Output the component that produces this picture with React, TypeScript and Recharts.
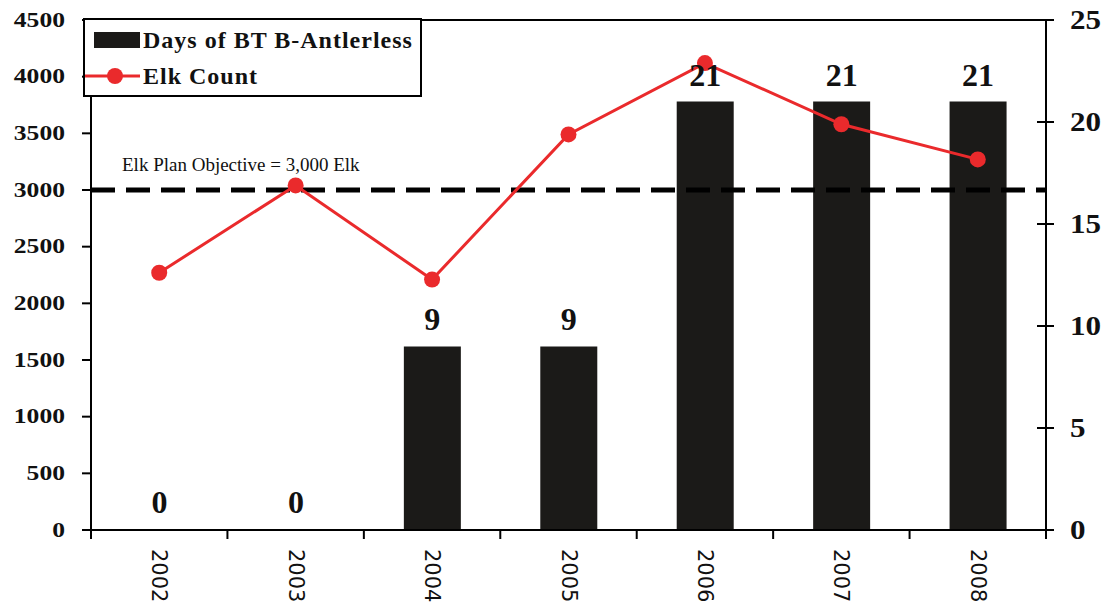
import React from "react";
import {
  ComposedChart,
  Bar,
  Line,
  XAxis,
  YAxis,
  ReferenceLine,
  LabelList,
} from "recharts";

const years = ["2002", "2003", "2004", "2005", "2006", "2007", "2008"];
const daysAntlerless = [0, 0, 9, 9, 21, 21, 21];
const elkCount = [2270, 3040, 2210, 3490, 4120, 3580, 3270];
const leftTicks = [0, 500, 1000, 1500, 2000, 2500, 3000, 3500, 4000, 4500];
const rightTicks = [0, 5, 10, 15, 20, 25];
const objective = 3000;
const objectiveLabel = "Elk Plan Objective = 3,000 Elk";
const barName = "Days of BT B-Antlerless";
const lineName = "Elk Count";

const data = years.map((y, i) => ({
  year: y,
  days: daysAntlerless[i],
  elk: elkCount[i],
}));

const SERIF = "'Liberation Serif', 'Times New Roman', serif";
const RED = "#ea2a2c";
const BAR = "#1b1a18";

const X_TICK_SIZE = 9;
const X_TICK_MARGIN = 10;

const XTick = (props: any) => {
  const { x, y, payload, index } = props;
  const half = payload && typeof payload.offset === "number" && payload.offset > 0 ? payload.offset : 68.2;
  const axisY = y - X_TICK_SIZE - X_TICK_MARGIN;
  return (
    <g>
      <line x1={x - half} x2={x - half} y1={axisY} y2={axisY + X_TICK_SIZE} stroke="#000" strokeWidth={2} />
      {index === years.length - 1 && (
        <line x1={x + half} x2={x + half} y1={axisY} y2={axisY + X_TICK_SIZE} stroke="#000" strokeWidth={2} />
      )}
      <text
        transform={`translate(${x},${y}) rotate(90)`}
        x={0}
        y={0}
        textAnchor="start"
        dominantBaseline="central"
        fontFamily="'DejaVu Sans', sans-serif"
        fontSize={21}
        fill="#111"
      >
        {payload.value}
      </text>
    </g>
  );
};

const LeftTick = (props: any) => {
  const { x, y, payload } = props;
  return (
    <text
      transform={`translate(${x},${y}) scale(1.28,1)`}
      x={0}
      y={0}
      textAnchor="end"
      dominantBaseline="central"
      fontFamily={SERIF}
      fontWeight="bold"
      fontSize={20}
      fill="#111"
    >
      {payload.value}
    </text>
  );
};

const R_TICK_SIZE = 8;
const R_TICK_MARGIN = 16;

const RightTick = (props: any) => {
  const { x, y, payload } = props;
  const axisX = x - R_TICK_SIZE - R_TICK_MARGIN;
  return (
    <g>
      <line x1={axisX - 9} x2={axisX + 8} y1={y} y2={y} stroke="#000" strokeWidth={2} />
      <text
        transform={`translate(${x},${y}) scale(1.15,1)`}
        x={0}
        y={0}
        textAnchor="start"
        dominantBaseline="central"
        fontFamily={SERIF}
        fontWeight="bold"
        fontSize={27}
        fill="#111"
      >
        {payload.value}
      </text>
    </g>
  );
};

const ObjectiveLabel = (props: any) => {
  const vb = props.viewBox || {};
  return (
    <text
      x={(vb.x || 0) + 31}
      y={(vb.y || 0) - 19}
      fontFamily={SERIF}
      fontSize={19}
      fill="#111"
    >
      {objectiveLabel}
    </text>
  );
};

const LegendBox = () => (
  <div
    style={{
      position: "absolute",
      left: 83,
      top: 18,
      width: 335,
      height: 75,
      border: "2px solid #000",
      background: "#fff",
      fontFamily: SERIF,
      fontWeight: "bold",
      fontSize: 24,
      color: "#111",
    }}
  >
    <div style={{ position: "absolute", left: 0, top: 5, height: 30, display: "flex", alignItems: "center" }}>
      <svg width={58} height={30} style={{ display: "block" }}>
        <rect x={9} y={7} width={46} height={16} fill={BAR} />
      </svg>
      <span style={{ letterSpacing: 1, whiteSpace: "nowrap" }}>{barName}</span>
    </div>
    <div style={{ position: "absolute", left: 0, top: 41, height: 30, display: "flex", alignItems: "center" }}>
      <svg width={58} height={30} style={{ display: "block" }}>
        <line x1={0} x2={55} y1={15} y2={15} stroke={RED} strokeWidth={3} />
        <circle cx={30} cy={15} r={8} fill={RED} />
      </svg>
      <span style={{ letterSpacing: 1, whiteSpace: "nowrap" }}>{lineName}</span>
    </div>
  </div>
);

export default function App() {
  return (
    <div style={{ position: "absolute", left: 0, top: 0, width: 1107, height: 606, background: "#fff" }}>
      <ComposedChart
        width={1107}
        height={606}
        data={data}
        margin={{ top: 20, right: 0, bottom: 0, left: 0 }}
      >
        <XAxis
          dataKey="year"
          height={76}
          axisLine={{ stroke: "#000", strokeWidth: 2 }}
          tickLine={false}
          tickSize={X_TICK_SIZE}
          tickMargin={X_TICK_MARGIN}
          tick={<XTick />}
          interval={0}
        />
        <YAxis
          yAxisId="left"
          orientation="left"
          width={91}
          domain={[0, 4500]}
          ticks={leftTicks}
          interval={0}
          axisLine={{ stroke: "#000", strokeWidth: 2 }}
          tickLine={{ stroke: "#000", strokeWidth: 2 }}
          tickSize={9}
          tickMargin={17}
          tick={<LeftTick />}
        />
        <YAxis
          yAxisId="right"
          orientation="right"
          width={61}
          domain={[0, 25]}
          ticks={rightTicks}
          interval={0}
          axisLine={{ stroke: "#000", strokeWidth: 2 }}
          tickLine={false}
          tickSize={R_TICK_SIZE}
          tickMargin={R_TICK_MARGIN}
          tick={<RightTick />}
        />
        <ReferenceLine yAxisId="left" y={4500} stroke="#000" strokeWidth={2} ifOverflow="visible" />
        <Bar
          yAxisId="right"
          dataKey="days"
          name={barName}
          fill={BAR}
          barSize={57}
          minPointSize={1}
          isAnimationActive={false}
        >
          <LabelList
            dataKey="days"
            position="top"
            offset={16}
            style={{ fontFamily: SERIF, fontWeight: "bold", fontSize: 32, fill: "#111" }}
          />
        </Bar>
        <ReferenceLine
          yAxisId="left"
          y={objective}
          stroke="#000"
          strokeWidth={5}
          strokeDasharray="24 11"
          label={<ObjectiveLabel />}
        />
        <Line
          yAxisId="left"
          type="linear"
          dataKey="elk"
          name={lineName}
          stroke={RED}
          strokeWidth={3}
          dot={{ r: 8, fill: RED, stroke: RED, strokeWidth: 0 }}
          activeDot={false}
          isAnimationActive={false}
        />
        <XAxis
          xAxisId="cover"
          dataKey="year"
          hide
        />
      </ComposedChart>
      <LegendBox />
    </div>
  );
}
